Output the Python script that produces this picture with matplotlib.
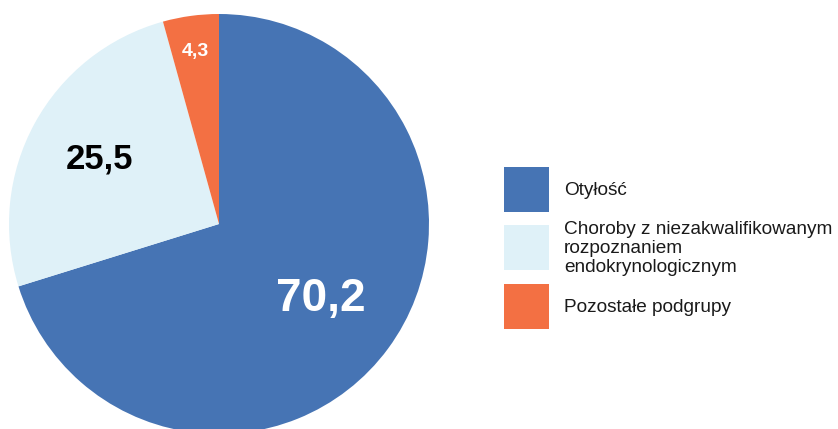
import matplotlib.pyplot as plt
import numpy as np
from matplotlib.patches import Rectangle

plt.rcParams['font.family'] = ['Liberation Sans', 'DejaVu Sans']

categories = ['Otyłość',
              'Choroby z niezakwalifikowanym\nrozpoznaniem\nendokrynologicznym',
              'Pozostałe podgrupy']
values = [70.2, 25.5, 4.3]
value_labels = ['70,2', '25,5', '4,3']

colors = ['#4674b4', '#dff1f8', '#f37043']
label_colors = ['white', 'black', 'white']
label_sizes = [33, 25, 14]
label_radius = [0.6, 0.65, 0.83]

W, H = 838, 429
fig = plt.figure(figsize=(W / 100, H / 100), dpi=100)

# pie sits at the left, slightly cut off at the bottom
ax = fig.add_axes([9 / W, -5 / H, 420 / W, 420 / H])
wedges, _ = ax.pie(values, colors=colors, startangle=90, counterclock=False,
                   radius=1.0, wedgeprops=dict(linewidth=0))
ax.set_xlim(-1, 1)
ax.set_ylim(-1, 1)
ax.set_aspect('equal')
ax.axis('off')

for w, txt, c, s, r in zip(wedges, value_labels, label_colors, label_sizes, label_radius):
    mid = np.deg2rad((w.theta1 + w.theta2) / 2)
    ax.text(r * np.cos(mid), r * np.sin(mid), txt, ha='center', va='center',
            color=c, fontsize=s, fontweight='bold')

# legend on the right, built by hand
box_x, box_size = 504, 45
box_tops = [167, 225, 284]
for top, col, name in zip(box_tops, colors, categories):
    fig.add_artist(Rectangle((box_x / W, 1 - (top + box_size) / H),
                             box_size / W, box_size / H,
                             transform=fig.transFigure, color=col, lw=0))
    fig.text(564 / W, 1 - (top + box_size / 2 + 1) / H, name,
             ha='left', va='center', fontsize=13.7, color='#1a1a1a',
             linespacing=1.15)

fig.savefig('out.png', dpi=100)
